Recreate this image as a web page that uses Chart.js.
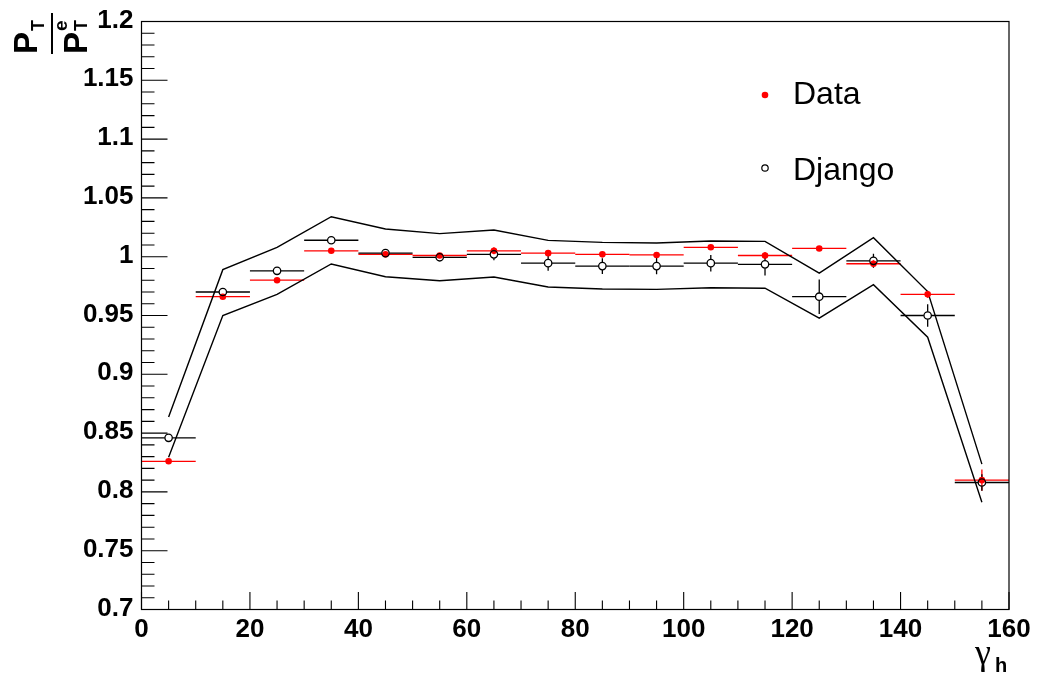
<!DOCTYPE html>
<html>
<head>
<meta charset="utf-8">
<script src="https://cdn.jsdelivr.net/npm/chart.js@4.4.1/dist/chart.umd.min.js"></script>
<style>
  html, body { margin: 0; padding: 0; background: #fff; }
  #wrap { width: 1040px; height: 677px; }
</style>
</head>
<body>
<div id="wrap"><canvas id="chartPt" width="1040" height="677"></canvas></div>
<script>
// bins in gamma_h, 10 wide
const binCenters = [5, 15, 25, 35, 45, 55, 65, 75, 85, 95, 105, 115, 125, 135, 145, 155];
const binHalfWidth = 5;

// pT / pT(e) for data and for the Django simulation
const dataRatio = [0.826, 0.966, 0.980, 1.005, 1.002, 1.001, 1.005, 1.003, 1.002, 1.0015, 1.008, 1.001, 1.007, 0.994, 0.968, 0.810];
const dataErr   = [0.002, 0.002, 0.002, 0.002, 0.002, 0.002, 0.003, 0.002, 0.002, 0.002, 0.002, 0.003, 0.002, 0.003, 0.003, 0.009];
const djangoRatio = [0.846, 0.970, 0.988, 1.014, 1.003, 0.9995, 1.002, 0.9945, 0.992, 0.992, 0.9945, 0.9935, 0.966, 0.9965, 0.950, 0.808];
const djangoErr   = [0.001, 0.001, 0.001, 0.001, 0.002, 0.002, 0.005, 0.0065, 0.0067, 0.007, 0.007, 0.0095, 0.0147, 0.006, 0.0095, 0.007];

// systematic band around the simulation
const bandUpper = [0.8636, 0.989, 1.008, 1.034, 1.0236, 1.0196, 1.0227, 1.0139, 1.0122, 1.0116, 1.0133, 1.013, 0.986, 1.0162, 0.9703, 0.8236];
const bandLower = [0.8295, 0.950, 0.968, 0.9938, 0.983, 0.9796, 0.9827, 0.9742, 0.9725, 0.9722, 0.9736, 0.9732, 0.9478, 0.9762, 0.9315, 0.7912];

const RED = "#ff0000";
const tickFont = { family: "Liberation Sans", size: 26, weight: "bold" };

function toPoints(values) {
  return binCenters.map((x, i) => ({ x: x, y: values[i] }));
}

// ROOT-like decorations: inner ticks, frame, error bars, legend, titles
const rootStyle = {
  id: "rootStyle",
  beforeDatasetsDraw(chart) {
    const c = chart.ctx;
    const xs = chart.scales.x, ys = chart.scales.y;
    c.save();
    c.lineWidth = 1.3;

    // red error bars (marker is filled, so plain crosses)
    c.strokeStyle = RED;
    binCenters.forEach((x, i) => {
      const v = dataRatio[i], e = dataErr[i];
      const px = xs.getPixelForValue(x), py = ys.getPixelForValue(v);
      c.beginPath();
      c.moveTo(xs.getPixelForValue(x - binHalfWidth), py);
      c.lineTo(xs.getPixelForValue(x + binHalfWidth), py);
      c.moveTo(px, ys.getPixelForValue(v + e));
      c.lineTo(px, ys.getPixelForValue(v - e));
      c.stroke();
    });

    // black error bars stop at the open circle
    c.strokeStyle = "#000";
    const r = 3.8;
    binCenters.forEach((x, i) => {
      const v = djangoRatio[i], e = djangoErr[i];
      const px = xs.getPixelForValue(x), py = ys.getPixelForValue(v);
      const yTop = ys.getPixelForValue(v + e), yBot = ys.getPixelForValue(v - e);
      c.beginPath();
      c.moveTo(xs.getPixelForValue(x - binHalfWidth), py);
      c.lineTo(px - r, py);
      c.moveTo(px + r, py);
      c.lineTo(xs.getPixelForValue(x + binHalfWidth), py);
      if (yTop < py - r) { c.moveTo(px, yTop); c.lineTo(px, py - r); }
      if (yBot > py + r) { c.moveTo(px, py + r); c.lineTo(px, yBot); }
      c.stroke();
    });
    c.restore();
  },
  afterDraw(chart) {
    const c = chart.ctx;
    const a = chart.chartArea;
    const xs = chart.scales.x, ys = chart.scales.y;
    c.save();

    // frame
    c.strokeStyle = "#000";
    c.lineWidth = 1.2;
    c.strokeRect(a.left, a.top, a.right - a.left, a.bottom - a.top);

    // y ticks, pointing into the frame
    c.lineWidth = 1.1;
    c.beginPath();
    for (let i = 0; i <= 50; i++) {
      const py = ys.getPixelForValue(0.7 + i * 0.01);
      const len = i % 5 === 0 ? 26 : 13;
      c.moveTo(a.left, py);
      c.lineTo(a.left + len, py);
    }
    // x ticks
    for (let i = 0; i <= 32; i++) {
      const px = xs.getPixelForValue(i * 5);
      const len = i % 4 === 0 ? 17.5 : 9;
      c.moveTo(px, a.bottom);
      c.lineTo(px, a.bottom - len);
    }
    c.stroke();

    // legend
    const sets = chart.data.datasets;
    c.font = "32px 'Liberation Sans'";
    c.fillStyle = "#000";
    c.textBaseline = "alphabetic";
    c.textAlign = "left";
    c.fillText(sets[2].label, 793, 104);
    c.fillText(sets[3].label, 793, 180);
    c.beginPath();
    c.fillStyle = RED;
    c.arc(765, 95, 3.3, 0, Math.PI * 2);
    c.fill();
    c.beginPath();
    c.strokeStyle = "#000";
    c.lineWidth = 1.2;
    c.arc(765, 168, 3.2, 0, Math.PI * 2);
    c.stroke();

    // x title: gamma_h
    c.fillStyle = "#000";
    c.font = "36px 'Liberation Serif'";
    c.fillText("γ", 975, 664);
    c.font = "bold 20px 'Liberation Sans'";
    c.fillText("h", 995, 672);

    // y title: pT / pT^e, rotated
    c.save();
    c.rotate(-Math.PI / 2);
    // rotated frame: (u, v) -> pixel (x = v, y = -u)
    c.font = "bold 33px 'Liberation Sans'";
    c.fillText("P", -54, 37);
    c.fillText("P", -54, 87);
    c.font = "bold 18px 'Liberation Sans'";
    c.fillText("T", -31, 44);
    c.fillText("T", -31, 87);
    c.font = "bold 19px 'Liberation Sans'";
    c.fillText("e", -31, 67);
    c.restore();
    c.beginPath();
    c.lineWidth = 2;
    c.moveTo(52, 13);
    c.lineTo(52, 54);
    c.stroke();

    c.restore();
  }
};

const ctx = document.getElementById("chartPt");

new Chart(ctx, {
  type: "scatter",
  data: {
    datasets: [
      {
        label: "upper",
        data: toPoints(bandUpper),
        showLine: true,
        borderColor: "#000",
        borderWidth: 1.4,
        pointRadius: 0,
        tension: 0,
        fill: false,
        order: 3,
      },
      {
        label: "lower",
        data: toPoints(bandLower),
        showLine: true,
        borderColor: "#000",
        borderWidth: 1.4,
        pointRadius: 0,
        tension: 0,
        fill: false,
        order: 3,
      },
      {
        label: "Data",
        data: toPoints(dataRatio),
        pointStyle: "circle",
        pointRadius: 3.3,
        backgroundColor: RED,
        borderColor: RED,
        borderWidth: 0,
        order: 2,
      },
      {
        label: "Django",
        data: toPoints(djangoRatio),
        pointStyle: "circle",
        pointRadius: 3.7,
        backgroundColor: "rgba(0,0,0,0)",
        borderColor: "#000",
        borderWidth: 1.3,
        order: 1,
      },
    ],
  },
  options: {
    responsive: false,
    animation: false,
    devicePixelRatio: 1,
    layout: { padding: { top: 21.5, right: 31, left: 0, bottom: 0 } },
    plugins: {
      legend: { display: false },
      tooltip: { enabled: false },
    },
    scales: {
      x: {
        type: "linear",
        min: 0,
        max: 160,
        ticks: { stepSize: 20, color: "#000", font: tickFont, padding: -3, maxRotation: 0, autoSkip: false },
        grid: { display: false },
        border: { display: false },
        afterFit: (s) => { s.height = 67.5; },
      },
      y: {
        min: 0.7,
        max: 1.2,
        ticks: {
          stepSize: 0.05,
          color: "#000",
          font: tickFont,
          padding: 0,
          labelOffset: -1,
          callback: (v) => String(Math.round(v * 100) / 100),
        },
        grid: { display: false },
        border: { display: false },
        afterFit: (s) => { s.width = 141.5; },
      },
    },
  },
  plugins: [rootStyle],
});
</script>
</body>
</html>
